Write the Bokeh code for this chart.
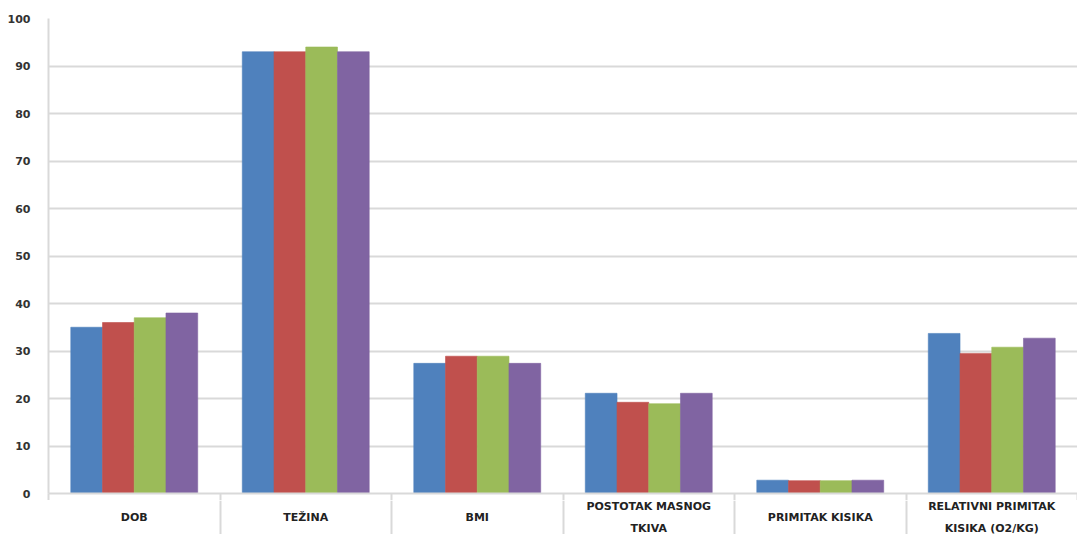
from bokeh.plotting import figure
from bokeh.models import ColumnDataSource, FixedTicker, Range1d, LinearAxis
from bokeh.layouts import column
from bokeh.core.properties import value
from bokeh.transform import dodge
from bokeh.embed import file_html
from bokeh.resources import INLINE

categories = ["DOB", "TEŽINA", "BMI", "POSTOTAK MASNOG\nTKIVA", "PRIMITAK KISIKA",
              "RELATIVNI PRIMITAK\nKISIKA (O2/KG)"]
series_1 = [35.0, 93.0, 27.4, 21.1, 2.8, 33.7]
series_2 = [36.0, 93.0, 28.9, 19.2, 2.7, 29.5]
series_3 = [37.0, 94.0, 28.9, 18.9, 2.7, 30.8]
series_4 = [38.0, 93.0, 27.4, 21.1, 2.8, 32.7]
y_ticks = [0, 10, 20, 30, 40, 50, 60, 70, 80, 90, 100]

colors = ["#4F81BD", "#C0504D", "#9BBB59", "#8064A2"]
series = [series_1, series_2, series_3, series_4]
GRID = "#D9D9D9"

n = len(categories)
pos = [i + 0.5 for i in range(n)]
data = {"x": pos, "label": categories}
for k, s in enumerate(series):
    data[f"s{k}"] = s
source = ColumnDataSource(data)

x_range = Range1d(0, n)

p = figure(width=1077, height=500, output_backend="svg", toolbar_location=None,
           x_range=x_range, y_range=Range1d(0, 100),
           min_border_left=48, min_border_right=0, min_border_top=18, min_border_bottom=7,
           x_axis_location=None, y_axis_location=None)
p.outline_line_color = None

bw = 0.185
offsets = [-1.5 * bw, -0.5 * bw, 0.5 * bw, 1.5 * bw]
for k in range(4):
    p.vbar(x=dodge("x", offsets[k], range=x_range), top=f"s{k}", width=bw,
           source=source, fill_color=colors[k], line_color=colors[k], line_alpha=0.6)

yax = LinearAxis(ticker=FixedTicker(ticks=y_ticks, minor_ticks=[]))
yax.axis_line_color = GRID
yax.axis_line_width = 2
yax.major_tick_line_color = None
yax.minor_tick_line_color = None
yax.major_label_standoff = 12
yax.major_label_text_font = "DejaVu Sans"
yax.major_label_text_font_style = "bold"
yax.major_label_text_font_size = "11px"
yax.major_label_text_color = "#333333"
p.add_layout(yax, "left")

xax = LinearAxis(ticker=FixedTicker(ticks=[], minor_ticks=list(range(n + 1))))
xax.axis_line_color = GRID
xax.axis_line_width = 2
xax.major_tick_line_color = None
xax.minor_tick_line_color = GRID
xax.minor_tick_line_width = 2
xax.minor_tick_in = 0
xax.minor_tick_out = 7
xax.major_label_standoff = 0
p.add_layout(xax, "below")

p.xgrid.visible = False
p.ygrid.grid_line_color = GRID
p.ygrid.grid_line_width = 2
p.ygrid.ticker = FixedTicker(ticks=y_ticks)

# category label strip
p2 = figure(width=1077, height=34, output_backend="svg", toolbar_location=None,
            x_range=x_range, y_range=Range1d(0, 1),
            min_border_left=48, min_border_right=0, min_border_top=0, min_border_bottom=0,
            x_axis_location=None, y_axis_location=None)
p2.outline_line_color = None
p2.ygrid.visible = False
p2.xgrid.ticker = FixedTicker(ticks=list(range(n + 1)))
p2.xgrid.grid_line_color = GRID
p2.xgrid.grid_line_width = 2
p2.text(x="x", y=0.5, text="label", source=source,
        text_align="center", text_baseline="middle",
        text_font=value("DejaVu Sans"), text_font_style="bold",
        text_font_size="11px", text_color="#222222", text_line_height=1.65)

layout = column(p, p2, spacing=0)
open("out.html", "w").write(file_html(layout, INLINE))
